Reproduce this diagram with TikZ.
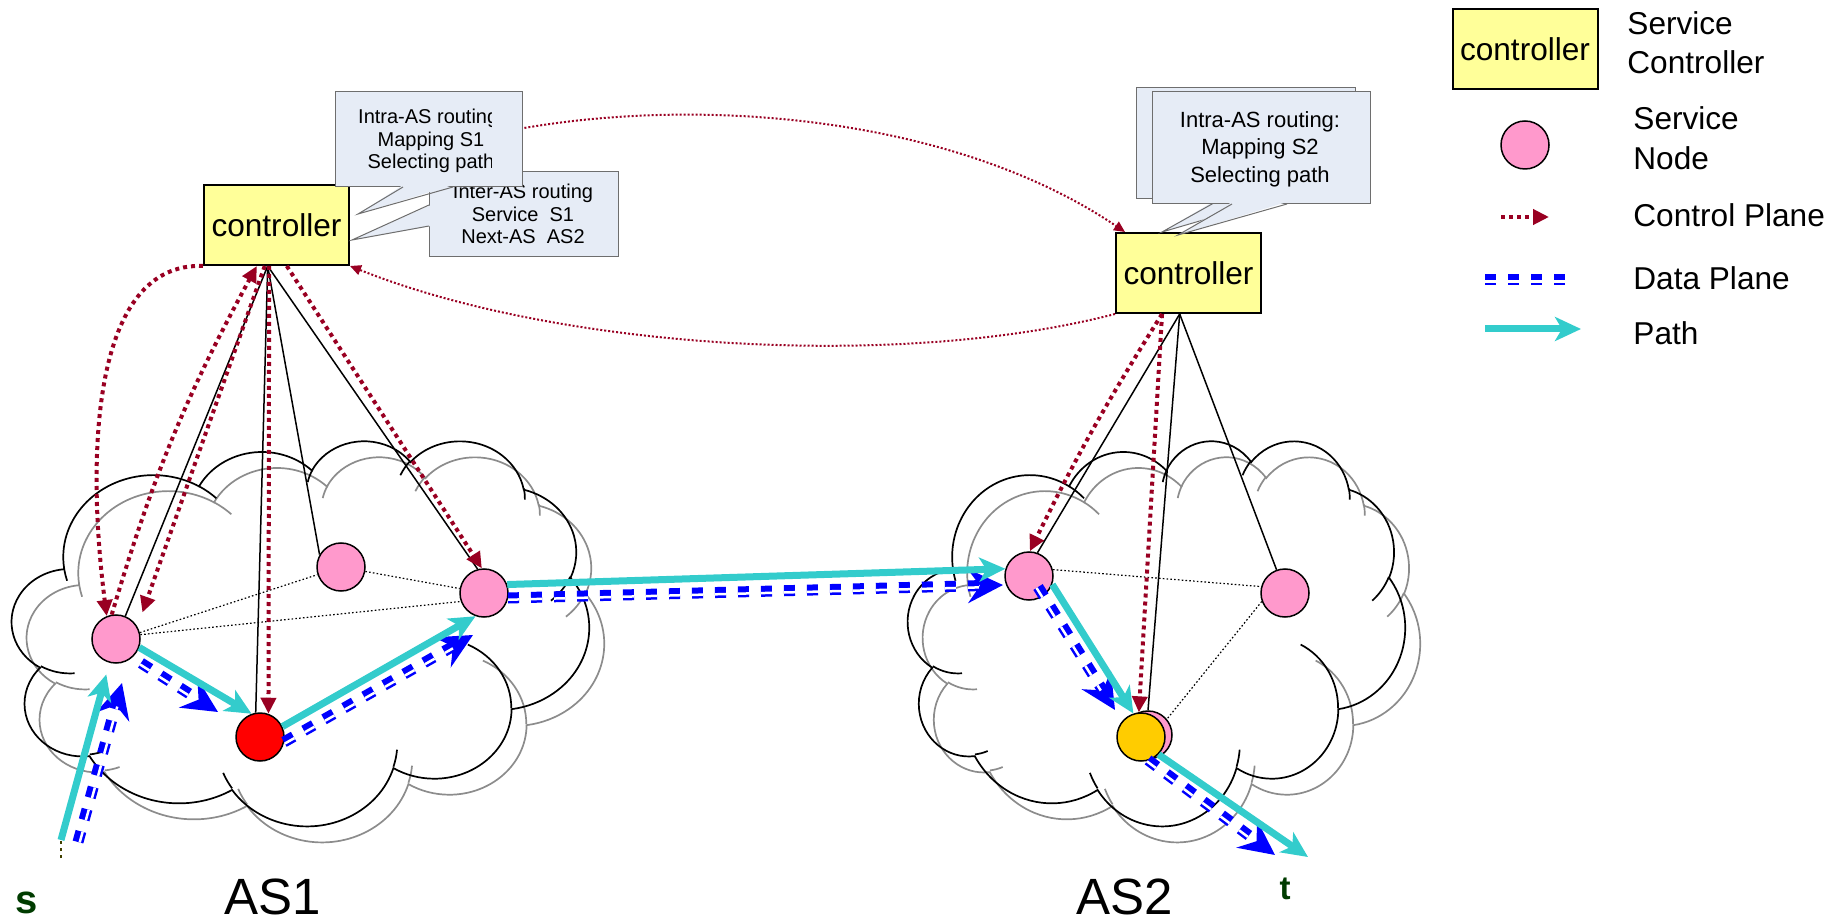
\documentclass[tikz,border=0pt]{standalone}
\usepackage{fontspec}
\setmainfont{Liberation Sans}
\usetikzlibrary{arrows.meta,calc}

\definecolor{ctrlfill}{RGB}{255,255,153}
\definecolor{pinkfill}{RGB}{255,153,204}
\definecolor{redfill}{RGB}{255,0,0}
\definecolor{goldfill}{RGB}{255,204,0}
\definecolor{cplane}{RGB}{153,0,34}
\definecolor{dblue}{RGB}{0,0,255}
\definecolor{pathcyan}{RGB}{51,204,204}
\definecolor{calloutfill}{RGB}{230,236,246}
\definecolor{calloutedge}{RGB}{110,110,110}
\definecolor{cloudgray}{RGB}{140,140,140}
\definecolor{labelgreen}{RGB}{0,60,0}
\definecolor{stubolive}{RGB}{64,64,0}

% Cloud outline built from elliptical arcs (angles given as visual angles,
% converted here to the parametric angles that TikZ arcs use).
\makeatletter
\newcommand\cldprep[5]{%
  \pgfmathsetmacro\cld@s{atan2((#2)*sin(#4),(#3)*cos(#4))}%
  \pgfmathsetmacro\cld@e{atan2((#2)*sin((#4)+(#5)),(#3)*cos((#4)+(#5)))}%
  \pgfmathsetmacro\cld@d{mod(\cld@e-\cld@s+720,360)}%
  \edef\cld@tmp{\noexpand\tikzset{#1/.style={start angle=\cld@s,delta angle=\cld@d,x radius=#2,y radius=#3}}}%
  \cld@tmp
}
\makeatother
% outer bumps
\cldprep{co1}{6.753}{9.190}{-190.487}{123.781}
\cldprep{co2}{5.333}{7.267}{-144.102}{89.945}
\cldprep{co3}{4.365}{5.945}{-145.808}{99.723}
\cldprep{co4}{4.857}{6.595}{-130.986}{117.242}
\cldprep{co5}{5.333}{7.273}{-78.709}{109.027}
\cldprep{co6}{6.775}{9.220}{-46.267}{130.269}
\cldprep{co7}{5.785}{7.867}{0.625}{114.033}
\cldprep{co8}{6.752}{9.215}{22.452}{115.173}
\cldprep{co9}{7.720}{10.543}{66.243}{75.711}
\cldprep{co10}{4.360}{5.918}{-274.942}{146.736}
\cldprep{co11}{4.345}{5.945}{-246.829}{152.519}
% inner strokes
\cldprep{ci1}{4.345}{5.945}{86.742}{26.430}
\cldprep{ci2}{4.360}{5.918}{73.610}{11.447}
\cldprep{ci3}{6.752}{9.215}{137.624}{14.081}
\cldprep{ci4}{6.752}{9.215}{6.453}{15.998}
\cldprep{ci5}{5.785}{7.867}{-70.292}{70.917}
\cldprep{ci6}{5.333}{7.273}{30.318}{27.752}
\cldprep{ci7}{4.857}{6.595}{-13.744}{14.859}
\cldprep{ci8}{4.857}{6.595}{-149.181}{18.195}
\cldprep{ci9}{4.365}{5.945}{-163.494}{17.686}
\cldprep{ci10}{6.753}{9.190}{-66.707}{12.319}
\cldprep{ci11}{6.753}{9.190}{157.654}{11.858}

% #1 left, #2 top, #3 width, #4 height, #5 line style
\newcommand\pptcloud[5]{%
  \begin{scope}[shift={(#1,#2)},xscale=#3/43.2,yscale=#4/43.2]
    \draw[#5] (3.900,14.370) arc[co1] arc[co2] arc[co3] arc[co4] arc[co5]
      arc[co6] arc[co7] arc[co8] arc[co9] arc[co10] arc[co11] -- cycle;
    \draw[#5] (4.693,26.177) arc[ci1] (6.928,34.899) arc[ci2]
      (16.478,39.090) arc[ci3] (28.827,34.751) arc[ci4]
      (34.129,22.954) arc[ci5] (41.798,15.354) arc[ci6]
      (38.324,5.426) arc[ci7] (29.078,3.952) arc[ci8]
      (22.141,4.720) arc[ci9] (14.000,5.192) arc[ci10]
      (4.127,15.789) arc[ci11];
  \end{scope}}

% data-plane link: thick dashes with a thin companion line
% #1 start, #2 end, #3/#4 sideways offset of the separating stripe
\newcommand\dataline[4]{%
  \draw[dplane] #1 -- #2;
  \draw[dstripe, transform canvas={shift={(#3,#4)}}] #1 -- #2;
}

\begin{document}
\begin{tikzpicture}[x=0.5pt,y=-0.5pt,
  ctrl/.style={draw, line width=1pt, fill=ctrlfill, minimum width=72.5pt,
    minimum height=40pt, inner sep=0pt, font=\fontsize{15.8}{19}\selectfont},
  snode/.style={circle, draw, line width=0.75pt, fill=pinkfill,
    minimum size=24pt, inner sep=0pt},
  cloudfront/.style={draw=black, line width=0.85pt},
  cloudback/.style={draw=cloudgray, line width=0.85pt},
  wire/.style={draw=black, line width=0.75pt},
  mesh/.style={draw=black, line width=0.6pt, dash pattern=on 0.8pt off 1.1pt},
  cp/.style={draw=cplane, line width=2pt, dash pattern=on 2pt off 2pt,
    -{Triangle[length=8pt,width=7.5pt]}},
  cpthin/.style={draw=cplane, line width=1pt, dash pattern=on 1pt off 1pt,
    -{Triangle[length=5.5pt,width=5pt]}},
  pathline/.style={draw=pathcyan, line width=3.5pt,
    -{Stealth[length=13pt,width=12pt,inset=3.5pt]}},
  dplane/.style={draw=dblue, line width=5.5pt, dash pattern=on 5.5pt off 6pt,
    -{Stealth[length=17.5pt,width=17pt,inset=6pt]}},
  dstripe/.style={draw=white, line width=1.25pt, dash pattern=on 5.5pt off 6pt,
    shorten >=12pt},
  callbox/.style={rectangle, draw=calloutedge, line width=0.5pt,
    fill=calloutfill, inner sep=0pt},
  calledge/.style={draw=calloutedge, line width=0.5pt},
  calltext/.style={align=center, inner sep=0pt, font=\fontsize{10}{11.25}\selectfont},
  calltextb/.style={align=center, inner sep=0pt, font=\fontsize{11}{13.75}\selectfont},
  legtext/.style={anchor=west, align=left, inner sep=0pt},
  aslabel/.style={inner sep=0pt, font=\fontsize{25.5}{30}\selectfont},
  endlabel/.style={inner sep=0pt, text=labelgreen, font=\bfseries},
  sdot/.style={draw=stubolive, line width=1pt, dash pattern=on 1.5pt off 2pt}
]
\useasboundingbox (0,0) rectangle (1845,924);

% ---- the two autonomous systems ----
\pptcloud{27}{456}{577}{385}{cloudback}
\pptcloud{12}{440}{577}{385}{cloudfront}
\pptcloud{923}{456}{497}{385}{cloudback}
\pptcloud{908}{440}{497}{385}{cloudfront}

% ---- controllers ----
\node[ctrl] (C1) at (276.5,225) {controller};
\node[ctrl] (C2) at (1188.5,273) {controller};

% ---- service nodes ----
\node[snode] (A) at (116,639) {};
\node[snode] (B) at (341,567) {};
\node[snode] (C) at (484,593) {};
\node[snode, fill=redfill] (D) at (260,737) {};
\node[snode] (E) at (1029,576) {};
\node[snode] (F) at (1285,593) {};
\node[snode] (Gp) at (1148,735) {};
\node[snode, fill=goldfill] (G) at (1141,737) {};

% attachment points on the controllers
\coordinate (C1a) at ($(C1.south west)!0.44!(C1.south east)$);
\coordinate (C2a) at ($(C2.south west)!0.44!(C2.south east)$);

% ---- controller to node wiring ----
\draw[wire] (C1a) -- (A);
\draw[wire] (C1a) -- (D.100);
\draw[wire] (C1a) -- (B.150);
\draw[wire] (C1a) -- (C.105);
\draw[wire] (C2a) -- (E.70);
\draw[wire] (C2a) -- (Gp.north);
\draw[wire] (C2a) -- (F.110);

% ---- intra-AS links ----
\draw[mesh] (A.15) -- (B);
\draw[mesh] (A.10) -- (C.200);
\draw[mesh] (B) -- (C);
\draw[mesh] (E.15) -- (F.165);
\draw[mesh] (F.200) -- (Gp.40);

% ---- control plane ----
\draw[cp] (C1.south west) .. controls (92,262) and (86,455) .. (A.112);
\draw[cp] (A.100) to[bend left=6] ($(C1.south west)!0.366!(C1.south east)$);
\draw[cp, shorten >=7.5pt] ($(C1.south west)!0.42!(C1.south east)$) -- (A.30);
\draw[cp] ($(C1.south west)!0.45!(C1.south east)$) -- (D.70);
\draw[cp] ($(C1.south west)!0.57!(C1.south east)$) -- (C.95);
\draw[cp] ($(C2.south west)!0.32!(C2.south east)$) to[bend right=3] (E.88);
\draw[cp] ($(C2.south west)!0.32!(C2.south east)$) -- (G.95);
\draw[cpthin] (C1.north east) .. controls (520,90) and (900,80) .. ([shift={(10,0)}]C2.north west);
\draw[cpthin] (C2.south west) .. controls (900,370) and (560,350) .. (C1.south east);

% ---- data plane ----
\coordinate (sc) at (61,840);
\coordinate (sb) at (78,842);
\coordinate (s0) at (61,858);
\coordinate (tc) at (1308,857);
\coordinate (tb) at (1275,855);
\draw[sdot] (s0) -- (sc);
\dataline{(sb)}{([shift={(6,44)}]A.center)}{1.69}{0.45}
\dataline{([shift={(25,24)}]A.center)}{([shift={(-42,-25)}]D.center)}{-0.94}{1.48}
\dataline{([shift={(24,5)}]D.center)}{([shift={(-11,42)}]C.center)}{0.86}{1.52}
\dataline{([shift={(24,5)}]C.center)}{([shift={(-26,9)}]E.center)}{0.05}{1.75}
\dataline{([shift={(9,11)}]E.center)}{([shift={(-26,-27)}]G.center)}{-1.48}{0.93}
\dataline{([shift={(7,23)}]G.center)}{(tb)}{-1.05}{1.40}

% ---- selected path ----
\draw[pathline, shorten >=6pt] (sc) -- (A);
\draw[pathline] (A.-20) -- (D.110);
\draw[pathline] (D.25) -- (C.250);
\draw[pathline] (C.20) -- (E.163);
\draw[pathline] (E.-20) -- (G.108);
\draw[pathline] (G.-45) -- (tc);

% ---- callouts ----
\node[callbox, minimum width=94.5pt, minimum height=42.5pt] (cb2) at (523.5,214.5) {};
\fill[calloutfill] (431,205) -- (352,240) -- (431,226) -- cycle;
\draw[calledge] (429,205) -- (352,240) -- (429,226);
\node[calltext] (ct2) at (523,214) {Inter-AS routing\\Service~~S1\\Next-AS~~AS2};

\node[callbox, minimum width=93.5pt, minimum height=47.5pt] (cb1) at (428.5,139.5) {};
\fill[calloutfill] (403,185) -- (358,214) -- (453,185) -- cycle;
\draw[calledge] (403,187) -- (358,214) -- (453,187);
\begin{scope}
  \clip (330,85) rectangle (491,195);
  \node[calltext] (ct1) at (431,141) {Intra-AS routing:\\Mapping S1\\Selecting path};
\end{scope}

\node[callbox, minimum width=109.5pt, minimum height=55.5pt] (cb3b) at (1245.5,143.5) {};
\fill[calloutfill] (1221,197) -- (1162,232) -- (1275,197) -- cycle;
\draw[calledge] (1221,199) -- (1162,232) -- (1275,199);
\node[callbox, minimum width=109pt, minimum height=56pt] (cb3) at (1261,148) {};
\fill[calloutfill] (1232,202) -- (1178,235) -- (1287,202) -- cycle;
\draw[calledge] (1232,204) -- (1178,235) -- (1287,204);
\node[calltextb] (ct3) at (1260,149) {Intra-AS routing:\\Mapping S2\\Selecting path};

% ---- labels ----
\node[aslabel] (as1) at (273,897) {AS1};
\node[aslabel] (as2) at (1125,897) {AS2};
\node[endlabel, font=\fontsize{20}{24}\selectfont\bfseries] (slab) at (27,903) {s};
\node[endlabel, font=\fontsize{16.5}{20}\selectfont\bfseries] (tlab) at (1285,889) {t};

% ---- legend ----
\node[ctrl] (LC) at (1525,49.5) {controller};
\node[legtext, font=\fontsize{15.8}{19.5}\selectfont] (lt1) at (1627,42.5) {Service\\Controller};
\node[snode] (LN) at (1525,145) {};
\node[legtext, font=\fontsize{15.8}{20}\selectfont] (lt2) at (1633,138) {Service\\Node};
\coordinate (lcpa) at (1501,217);
\coordinate (lcpb) at (1549,217);
\draw[cp] (lcpa) -- (lcpb);
\node[legtext, font=\fontsize{15.8}{19}\selectfont] (lt3) at (1633,215) {Control Plane};
\coordinate (ldpa) at (1485,280);
\coordinate (ldpb) at (1565,280);
\draw[dplane, -] (ldpa) -- (ldpb);
\draw[dstripe, shorten >=0pt, transform canvas={shift={(0,1.75)}}] (ldpa) -- (ldpb);
\node[legtext, font=\fontsize{15.8}{19}\selectfont] (lt4) at (1633,278) {Data Plane};
\coordinate (lpa) at (1485,329);
\coordinate (lpb) at (1581,329);
\draw[pathline] (lpa) -- (lpb);
\node[legtext, font=\fontsize{15.8}{19}\selectfont] (lt5) at (1633,333) {Path};
\end{tikzpicture}
\end{document}
